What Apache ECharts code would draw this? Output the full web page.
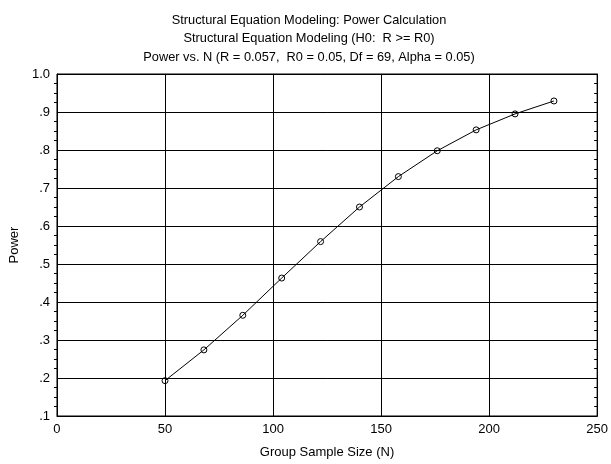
<!DOCTYPE html>
<html>
<head>
<meta charset="utf-8">
<script src="https://cdn.jsdelivr.net/npm/echarts@6/dist/echarts.min.js"></script>
<style>html,body{margin:0;padding:0;background:#fff;}#c{width:611px;height:464px;}</style>
</head>
<body>
<div id="c"></div>
<script>
const titleLines = [
  'Structural Equation Modeling: Power Calculation',
  'Structural Equation Modeling (H0:  R >= R0)',
  'Power vs. N (R = 0.057,  R0 = 0.05, Df = 69, Alpha = 0.05)'
];
const xName = 'Group Sample Size (N)';
const yName = 'Power';
const sampleSizes = [50, 68, 86, 104, 122, 140, 158, 176, 194, 212, 230];
const powerValues = [0.193, 0.274, 0.365, 0.463, 0.559, 0.650, 0.730, 0.798, 0.853, 0.895, 0.929];

const font = 'Arial, "Liberation Sans", sans-serif';
const chart = echarts.init(document.getElementById('c'), null, {renderer: 'canvas'});
const yFmt = v => (v > 0.999 ? '1.0' : v.toFixed(1).replace(/^0/, ''));
const titleY = [20, 38.5, 57];
chart.setOption({
  animation: false,
  backgroundColor: '#fff',
  graphic: titleLines.map((t, i) => ({
    type: 'text',
    x: 309,
    y: titleY[i],
    style: {
      text: t,
      fontFamily: font,
      fontSize: 12.8,
      fill: '#000',
      textAlign: 'center',
      textVerticalAlign: 'middle'
    }
  })),
  grid: {left: 56, right: 9, top: 74, bottom: 45, show: true, borderColor: '#000', borderWidth: 1, backgroundColor: 'transparent'},
  xAxis: {
    type: 'value', min: 0, max: 250, interval: 50,
    name: xName, nameLocation: 'middle', nameGap: 30,
    nameTextStyle: {fontFamily: font, fontSize: 13, color: '#000'},
    axisLine: {show: true, onZero: false, lineStyle: {color: '#000', width: 1}},
    axisTick: {show: false},
    axisLabel: {fontFamily: font, fontSize: 13, color: '#000', margin: 7},
    splitLine: {show: true, lineStyle: {color: '#000', width: 1}}
  },
  yAxis: [{
    type: 'value', min: 0.1, max: 1.0, interval: 0.1,
    name: yName, nameLocation: 'middle', nameGap: 35,
    nameTextStyle: {fontFamily: font, fontSize: 13, color: '#000'},
    axisLine: {show: true, onZero: false, lineStyle: {color: '#000', width: 1}},
    axisTick: {show: false},
    minorTick: {show: true, splitNumber: 4, length: 3, lineStyle: {color: '#000', width: 1}},
    axisLabel: {fontFamily: font, fontSize: 13, color: '#000', margin: 7, formatter: yFmt},
    splitLine: {show: true, lineStyle: {color: '#000', width: 1}}
  }, {
    type: 'value', min: 0.1, max: 1.0, interval: 0.1, position: 'right',
    axisLine: {show: true, onZero: false, lineStyle: {color: '#000', width: 1}},
    axisTick: {show: false},
    minorTick: {show: true, splitNumber: 4, length: -3, lineStyle: {color: '#000', width: 1}},
    axisLabel: {show: false},
    splitLine: {show: false}
  }],
  series: [{
    type: 'line',
    data: sampleSizes.map((n, i) => [n, powerValues[i]]),
    symbol: 'circle',
    symbolSize: 6,
    showSymbol: true,
    lineStyle: {color: '#000', width: 1},
    itemStyle: {color: 'rgba(0,0,0,0)', borderColor: '#000', borderWidth: 1},
    z: 5
  }]
});
</script>
</body>
</html>
